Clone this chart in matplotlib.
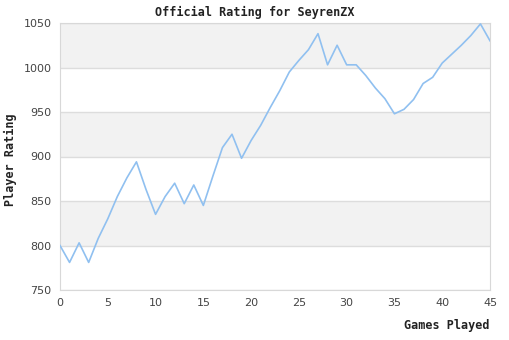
import matplotlib.pyplot as plt

games = list(range(46))
rating = [800, 781, 803, 781, 808, 830, 855, 876, 894, 863,
          835, 855, 870, 847, 868, 845, 878, 910, 925, 898,
          918, 935, 955, 974, 995, 1008, 1020, 1038, 1003, 1025,
          1003, 1003, 991, 977, 965, 948, 953, 964, 982, 989,
          1005, 1015, 1025, 1036, 1049, 1030]
y_ticks = [750, 800, 850, 900, 950, 1000, 1050]
x_ticks = [0, 5, 10, 15, 20, 25, 30, 35, 40, 45]

fig = plt.figure(figsize=(5.1, 3.4), dpi=100)
ax = fig.add_axes([60 / 510, 1 - 290 / 340, 430 / 510, 267 / 340])

# alternating horizontal bands
for lo, hi in zip(y_ticks[:-1], y_ticks[1:]):
    if (lo // 50) % 2 == 0:
        ax.axhspan(lo, hi, color='#f2f2f2', lw=0, zorder=0)
for y in y_ticks:
    ax.axhline(y, color='#dddddd', lw=1, zorder=1)

ax.plot(games, rating, color='#90c0f0', lw=1.2, zorder=3)

ax.set_xlim(0, 45)
ax.set_ylim(750, 1050)
ax.set_xticks(x_ticks)
ax.set_yticks(y_ticks)
ax.tick_params(length=0, labelsize=8, colors='#444444', pad=6)
for s in ax.spines.values():
    s.set_color('#d8d8d8')

mono = dict(family='DejaVu Sans Mono', weight='bold', size=8.5, color='#222222')
fig.text(0.5, 1 - 12 / 340, 'Official Rating for SeyrenZX', ha='center', va='center', **mono)
fig.text(10 / 510, 0.5 + 10 / 340, 'Player Rating', rotation=90, ha='center', va='center', **mono)
fig.text(490 / 510, 1 - 326 / 340, 'Games Played', ha='right', va='center', **mono)

fig.savefig('out.png', dpi=100)
